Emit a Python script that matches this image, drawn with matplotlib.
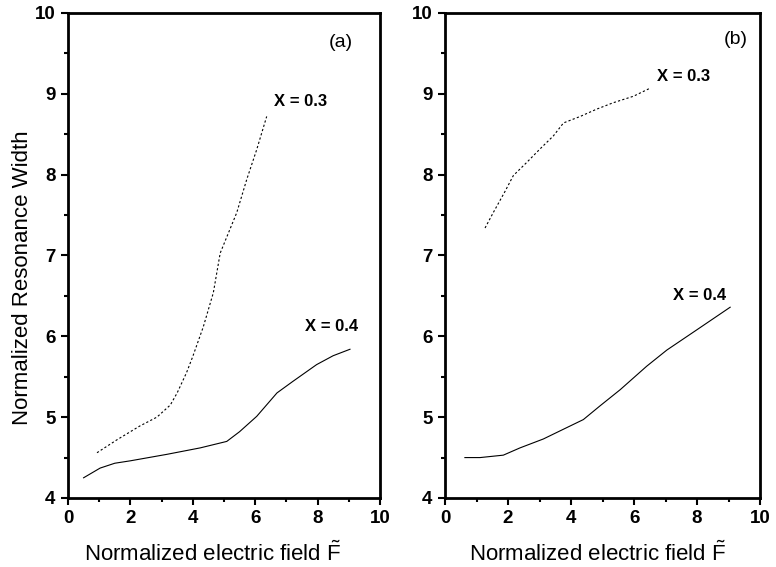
import numpy as np
import matplotlib
matplotlib.use('Agg')
import matplotlib.pyplot as plt
from matplotlib.ticker import MultipleLocator

plt.rcParams['font.family'] = ['Liberation Sans', 'DejaVu Sans']
plt.rcParams['mathtext.fontset'] = 'custom'
plt.rcParams['mathtext.rm'] = 'Liberation Sans'

# panel (a)
a_x03 = [0.93, 1.57, 2.3, 2.85, 3.28, 3.5, 3.8, 4.0, 4.34, 4.66, 4.88, 5.41, 5.73, 6.05, 6.37]
a_y03 = [4.56, 4.72, 4.89, 5.0, 5.15, 5.30, 5.55, 5.75, 6.12, 6.54, 7.03, 7.53, 7.94, 8.31, 8.72]
a_x04 = [0.5, 1.03, 1.5, 2.0, 3.17, 4.24, 5.09, 5.5, 6.05, 6.7, 7.2, 7.97, 8.5, 9.04]
a_y04 = [4.25, 4.37, 4.43, 4.46, 4.54, 4.62, 4.70, 4.82, 5.01, 5.30, 5.44, 5.65, 5.76, 5.84]

# panel (b)
b_x03 = [1.27, 1.53, 1.9, 2.17, 2.59, 3.02, 3.44, 3.76, 4.29, 4.81, 5.34, 5.98, 6.51]
b_y03 = [7.34, 7.53, 7.79, 7.99, 8.15, 8.32, 8.48, 8.64, 8.72, 8.81, 8.89, 8.97, 9.07]
b_x04 = [0.63, 1.11, 1.85, 2.38, 3.12, 3.86, 4.39, 4.92, 5.56, 6.4, 7.04, 7.99, 9.05]
b_y04 = [4.50, 4.50, 4.53, 4.62, 4.73, 4.87, 4.97, 5.14, 5.34, 5.63, 5.83, 6.08, 6.36]

fig = plt.figure(figsize=(7.76, 5.67), dpi=100)
axA = fig.add_axes([0.0876, 0.1217, 0.402, 0.8554])
axB = fig.add_axes([0.5735, 0.1217, 0.406, 0.8554])

dots = (0, (2, 2))
axA.plot(a_x03, a_y03, color='k', lw=0.8, linestyle=dots)
axA.plot(a_x04, a_y04, color='k', lw=0.8)
axB.plot(b_x03, b_y03, color='k', lw=0.8, linestyle=dots)
axB.plot(b_x04, b_y04, color='k', lw=0.8)

axA.text(6.62, 8.91, 'X = 0.3', fontsize=12, fontweight='bold', va='center')
axA.text(7.6, 6.12, 'X = 0.4', fontsize=12, fontweight='bold', va='center')
axA.text(8.35, 9.64, '(a)', fontsize=14, va='center')
axB.text(6.72, 9.22, 'X = 0.3', fontsize=12, fontweight='bold', va='center')
axB.text(7.25, 6.51, 'X = 0.4', fontsize=12, fontweight='bold', va='center')
axB.text(8.84, 9.67, '(b)', fontsize=14, va='center')

for ax in (axA, axB):
    ax.set_xlim(0, 10)
    ax.set_ylim(4, 10)
    ax.xaxis.set_major_locator(MultipleLocator(2))
    ax.xaxis.set_minor_locator(MultipleLocator(1))
    ax.yaxis.set_major_locator(MultipleLocator(1))
    ax.yaxis.set_minor_locator(MultipleLocator(0.5))
    ax.tick_params('both', which='major', direction='out', length=5, width=1.5,
                   labelsize=13.5, pad=4)
    ax.tick_params('both', which='minor', direction='out', length=3, width=1.5)
    for lab in ax.get_xticklabels() + ax.get_yticklabels():
        lab.set_fontweight('bold')
    for s in ax.spines.values():
        s.set_linewidth(2)
    ax.set_xlabel(r'Normalized electric field $\tilde{\mathrm{F}}$', fontsize=16)

axA.xaxis.set_label_coords(0.465, -0.09)
axB.xaxis.set_label_coords(0.483, -0.09)
axA.set_ylabel('Normalized Resonance Width', fontsize=16)
axA.yaxis.set_label_coords(-0.112, 0.455)

fig.savefig('out.png', dpi=100)
